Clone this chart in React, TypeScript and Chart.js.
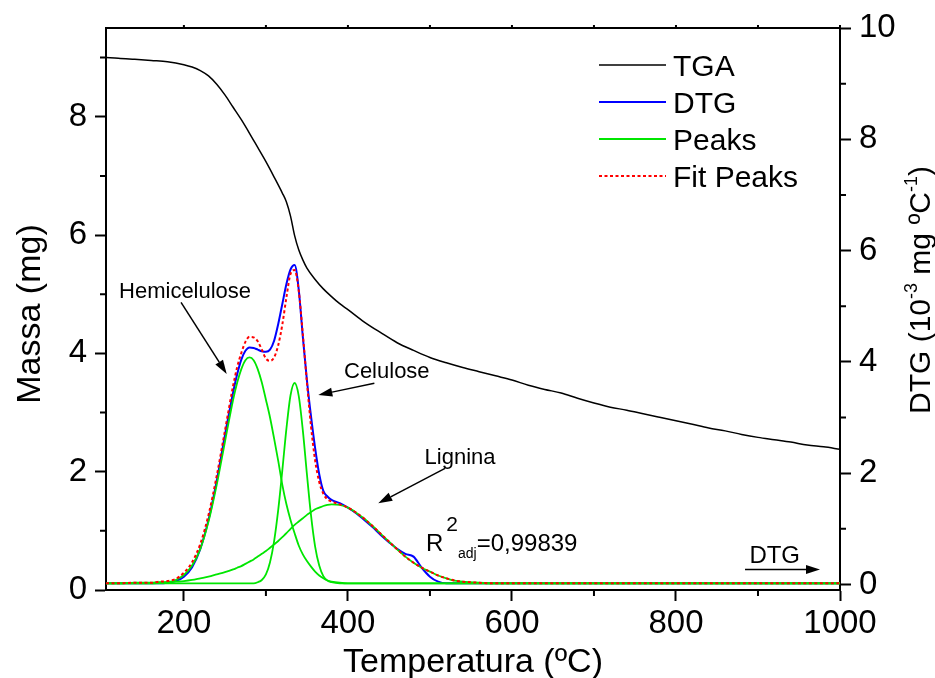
import React, { useEffect, useRef } from 'react';
import { Chart, registerables } from 'chart.js';

Chart.register(...registerables);

const FONT = "'Liberation Sans', Arial, Helvetica, sans-serif";

// Temperature grid (ºC) for DTG, peaks and fit
const TEMPS = [105, 120, 140, 160, 170, 180, 190, 200, 210, 220, 230, 240, 250, 260, 265, 270, 275, 280, 285, 290,
  295, 300, 305, 310, 315, 320, 325, 330, 335, 340, 345, 350, 355, 360, 365, 370, 375, 380, 390, 400,
  410, 420, 430, 440, 450, 460, 470, 480, 490, 500, 510, 520, 530, 540, 560, 580, 600, 650, 700, 750,
  800, 850, 900, 950, 1000];

// DTG experimental (10^-3 mg/ºC)
const DTG = [0.02, 0.02, 0.02, 0.02, 0.02, 0.03, 0.06, 0.14, 0.31, 0.64, 1.16, 1.86, 2.68, 3.45, 3.78, 4.04, 4.20, 4.26, 4.25, 4.22,
  4.19, 4.18, 4.22, 4.38, 4.68, 5.04, 5.40, 5.66, 5.74, 5.30, 4.45, 3.67, 3.02, 2.45, 1.98, 1.68, 1.58, 1.52, 1.46, 1.38,
  1.28, 1.16, 1.03, 0.89, 0.76, 0.64, 0.55, 0.50, 0.30, 0.14, 0.05, 0.02, 0.02, 0.02, 0.02, 0.02, 0.02, 0.02, 0.02, 0.02,
  0.02, 0.02, 0.02, 0.02, 0.02];

// Deconvoluted peaks
const PEAK_HEMI = [0.02, 0.02, 0.02, 0.02, 0.03, 0.04, 0.08, 0.17, 0.34, 0.64, 1.13, 1.79, 2.56, 3.32, 3.63, 3.87, 4.03, 4.08, 4.03, 3.87,
  3.63, 3.32, 3.00, 2.62, 2.22, 1.79, 1.44, 1.16, 0.92, 0.70, 0.54, 0.42, 0.32, 0.23, 0.16, 0.11, 0.07, 0.05, 0.03, 0.02,
  0.02, 0.02, 0.02, 0.02, 0.02, 0.02, 0.02, 0.02, 0.02, 0.02, 0.02, 0.02, 0.02, 0.02, 0.02, 0.02, 0.02, 0.02, 0.02, 0.02,
  0.02, 0.02, 0.02, 0.02, 0.02];

const PEAK_CEL = [0.02, 0.02, 0.02, 0.02, 0.02, 0.02, 0.02, 0.02, 0.02, 0.02, 0.02, 0.02, 0.02, 0.02, 0.02, 0.02, 0.02, 0.02, 0.02, 0.04,
  0.08, 0.18, 0.40, 0.78, 1.34, 2.05, 2.80, 3.40, 3.62, 3.39, 2.77, 1.98, 1.24, 0.68, 0.34, 0.15, 0.07, 0.04, 0.02, 0.02,
  0.02, 0.02, 0.02, 0.02, 0.02, 0.02, 0.02, 0.02, 0.02, 0.02, 0.02, 0.02, 0.02, 0.02, 0.02, 0.02, 0.02, 0.02, 0.02, 0.02,
  0.02, 0.02, 0.02, 0.02, 0.02];

const PEAK_LIG = [0.02, 0.02, 0.03, 0.03, 0.04, 0.04, 0.05, 0.06, 0.08, 0.11, 0.14, 0.18, 0.22, 0.27, 0.30, 0.33, 0.37, 0.41, 0.45, 0.50,
  0.55, 0.60, 0.66, 0.72, 0.78, 0.85, 0.92, 1.00, 1.07, 1.13, 1.19, 1.25, 1.30, 1.35, 1.38, 1.41, 1.43, 1.44, 1.43, 1.38,
  1.29, 1.18, 1.05, 0.91, 0.77, 0.63, 0.50, 0.39, 0.30, 0.23, 0.16, 0.11, 0.07, 0.05, 0.03, 0.02, 0.02, 0.02, 0.02, 0.02,
  0.02, 0.02, 0.02, 0.02, 0.02];

// Cumulative fit of the peaks
const FIT = [0.02, 0.02, 0.03, 0.03, 0.05, 0.06, 0.10, 0.21, 0.40, 0.73, 1.25, 1.95, 2.76, 3.57, 3.91, 4.16, 4.36, 4.45, 4.44, 4.37,
  4.22, 4.06, 4.02, 4.08, 4.30, 4.67, 5.16, 5.58, 5.65, 5.28, 4.50, 3.63, 2.84, 2.23, 1.84, 1.63, 1.53, 1.49, 1.44, 1.38,
  1.29, 1.18, 1.05, 0.91, 0.77, 0.63, 0.50, 0.39, 0.30, 0.23, 0.16, 0.11, 0.07, 0.05, 0.03, 0.02, 0.02, 0.02, 0.02, 0.02,
  0.02, 0.02, 0.02, 0.02, 0.02];

// TGA (mass, mg)
const TGA_TEMPS = [105, 120, 140, 160, 180, 200, 210, 220, 230, 240, 250, 260, 270, 280, 290, 300, 310, 320, 325, 330,
  335, 340, 345, 350, 360, 370, 380, 390, 400, 420, 440, 460, 480, 500, 520, 540, 560, 580, 600, 620,
  640, 660, 680, 700, 720, 740, 760, 780, 800, 820, 840, 860, 880, 900, 920, 940, 960, 980, 1000];
const TGA_MASS = [9.00, 8.99, 8.97, 8.95, 8.93, 8.88, 8.84, 8.78, 8.69, 8.55, 8.37, 8.16, 7.95, 7.72, 7.48, 7.24, 6.98, 6.71, 6.56, 6.32,
  5.99, 5.75, 5.58, 5.44, 5.25, 5.09, 4.96, 4.84, 4.74, 4.53, 4.35, 4.18, 4.05, 3.93, 3.84, 3.76, 3.69, 3.62, 3.55, 3.46,
  3.39, 3.33, 3.24, 3.16, 3.09, 3.04, 2.98, 2.92, 2.86, 2.80, 2.74, 2.69, 2.63, 2.58, 2.54, 2.50, 2.45, 2.42, 2.38];

// Ticks
const X_TICKS = [200, 400, 600, 800, 1000];
const X_MINOR = [300, 500, 700, 900];
const Y_TICKS = [0, 2, 4, 6, 8];
const Y_MINOR = [1, 3, 5, 7, 9];
const Y1_TICKS = [0, 2, 4, 6, 8, 10];
const Y1_MINOR = [1, 3, 5, 7, 9];

const LEGEND_ORDER = ['TGA', 'DTG', 'Peaks', 'Fit Peaks'];

// Annotations (anchored in data coordinates: temperature, DTG axis)
const NOTES = [
  { text: 'Hemicelulose', size: 22, at: [120.9, 5.142], from: [196.5, 5.07], to: [252.2, 3.782] },
  { text: 'Celulose', size: 22, at: [395.2, 3.715], from: [432.2, 3.615], to: [363.9, 3.405] },
  { text: 'Lignina', size: 22, at: [493.4, 2.164], from: [518.4, 2.087], to: [437.0, 1.458] },
  { text: 'DTG', size: 24, at: [889.5, 0.391], from: [884.2, 0.268], to: [975.6, 0.268] },
];
const R2_ANCHOR = [495.2, 0.606];

function arrow(ctx: CanvasRenderingContext2D, x1: number, y1: number, x2: number, y2: number) {
  const ang = Math.atan2(y2 - y1, x2 - x1);
  const L = 14, W = 4.5;
  const bx = x2 - L * Math.cos(ang), by = y2 - L * Math.sin(ang);
  ctx.beginPath();
  ctx.moveTo(x1, y1);
  ctx.lineTo(bx, by);
  ctx.lineWidth = 1.5;
  ctx.stroke();
  ctx.beginPath();
  ctx.moveTo(x2, y2);
  ctx.lineTo(bx + W * Math.sin(ang), by - W * Math.cos(ang));
  ctx.lineTo(bx - W * Math.sin(ang), by + W * Math.cos(ang));
  ctx.closePath();
  ctx.fill();
}

const decor = {
  id: 'decor',
  afterDraw(chart: any) {
    const ctx: CanvasRenderingContext2D = chart.ctx;
    const { left, right, top, bottom } = chart.chartArea;
    const sx = chart.scales.x, sy = chart.scales.y, sy1 = chart.scales.y1;
    ctx.save();
    ctx.strokeStyle = '#000';
    ctx.fillStyle = '#000';
    ctx.lineWidth = 2;
    // top frame
    ctx.beginPath();
    ctx.moveTo(left - 1, top);
    ctx.lineTo(right + 1, top);
    ctx.stroke();
    // minor ticks
    ctx.beginPath();
    X_MINOR.forEach(v => { const p = sx.getPixelForValue(v); ctx.moveTo(p, bottom); ctx.lineTo(p, bottom + 6); });
    [...X_TICKS, ...X_MINOR].forEach(v => { const p = sx.getPixelForValue(v); ctx.moveTo(p, top); ctx.lineTo(p, top - 3); });
    Y_MINOR.forEach(v => { const p = sy.getPixelForValue(v); ctx.moveTo(left, p); ctx.lineTo(left - 6, p); });
    Y1_MINOR.forEach(v => { const p = sy1.getPixelForValue(v); ctx.moveTo(right, p); ctx.lineTo(right + 6, p); });
    ctx.stroke();

    // legend
    const ds = chart.data.datasets;
    LEGEND_ORDER.forEach((lab, i) => {
      const d = ds.find((q: any) => q.label === lab);
      if (!d) return;
      const y = top + 37 + i * 37;
      ctx.save();
      ctx.strokeStyle = d.borderColor;
      ctx.lineWidth = d.borderWidth;
      ctx.setLineDash(d.borderDash || []);
      ctx.beginPath();
      ctx.moveTo(right - 241, y);
      ctx.lineTo(right - 174, y);
      ctx.stroke();
      ctx.restore();
      ctx.font = `30px ${FONT}`;
      ctx.textAlign = 'left';
      ctx.textBaseline = 'alphabetic';
      ctx.fillText(lab, right - 167, y + 10.7);
    });

    // annotations
    NOTES.forEach(n => {
      ctx.font = `${n.size}px ${FONT}`;
      ctx.textAlign = 'left';
      ctx.textBaseline = 'alphabetic';
      ctx.fillText(n.text, sx.getPixelForValue(n.at[0]), sy1.getPixelForValue(n.at[1]));
      arrow(ctx, sx.getPixelForValue(n.from[0]), sy1.getPixelForValue(n.from[1]),
        sx.getPixelForValue(n.to[0]), sy1.getPixelForValue(n.to[1]));
    });

    // R^2 adj
    let rx = sx.getPixelForValue(R2_ANCHOR[0]);
    const ry = sy1.getPixelForValue(R2_ANCHOR[1]);
    ctx.font = `24px ${FONT}`;
    ctx.fillText('R', rx, ry);
    rx += ctx.measureText('R').width + 3;
    ctx.font = `21px ${FONT}`;
    ctx.fillText('2', rx, ry - 20);
    rx += ctx.measureText('2').width;
    ctx.font = `14px ${FONT}`;
    ctx.fillText('adj', rx, ry + 7.5);
    rx += ctx.measureText('adj').width;
    ctx.font = `24px ${FONT}`;
    ctx.fillText('=0,99839', rx, ry);

    // axis titles
    ctx.font = `34px ${FONT}`;
    ctx.textAlign = 'center';
    ctx.fillText('Temperatura (ºC)', (left + right) / 2, 672);

    ctx.save();
    ctx.translate(40, 314);
    ctx.rotate(-Math.PI / 2);
    ctx.fillText('Massa (mg)', 0, 0);
    ctx.restore();

    // right title with superscripts
    const parts = [
      { t: 'DTG (10', s: 30, dy: 0 },
      { t: '-3', s: 18, dy: -13 },
      { t: ' mg ºC', s: 30, dy: 0 },
      { t: '-1', s: 18, dy: -13 },
      { t: ')', s: 30, dy: 0 },
    ];
    let total = 0;
    parts.forEach(p => { ctx.font = `${p.s}px ${FONT}`; total += ctx.measureText(p.t).width; });
    ctx.save();
    ctx.translate(930, 290);
    ctx.rotate(-Math.PI / 2);
    ctx.textAlign = 'left';
    let px = -total / 2;
    parts.forEach(p => {
      ctx.font = `${p.s}px ${FONT}`;
      ctx.fillText(p.t, px, p.dy);
      px += ctx.measureText(p.t).width;
    });
    ctx.restore();

    ctx.restore();
  },
};

export default function App() {
  const ref = useRef<HTMLCanvasElement>(null);
  useEffect(() => {
    const canvas = ref.current;
    if (!canvas) return;
    const pts = (xs: number[], ys: number[]) => xs.map((x, i) => ({ x, y: ys[i] }));
    const GREEN = '#00e600';
    const tickFont = { family: FONT, size: 33 };
    const plain = (v: any) => String(v);
    const chart = new Chart(canvas, {
      type: 'line',
      data: {
        datasets: [
          { label: 'Fit Peaks', data: pts(TEMPS, FIT), yAxisID: 'y1', borderColor: '#ff0000', borderWidth: 2, borderDash: [3, 2.5], order: 0 },
          { label: 'Peaks', data: pts(TEMPS, PEAK_HEMI), yAxisID: 'y1', borderColor: GREEN, borderWidth: 1.8, order: 1 },
          { label: 'Peaks', data: pts(TEMPS, PEAK_CEL), yAxisID: 'y1', borderColor: GREEN, borderWidth: 1.8, order: 1 },
          { label: 'Peaks', data: pts(TEMPS, PEAK_LIG), yAxisID: 'y1', borderColor: GREEN, borderWidth: 1.8, order: 1 },
          { label: 'DTG', data: pts(TEMPS, DTG), yAxisID: 'y1', borderColor: '#0000ff', borderWidth: 2, order: 2 },
          { label: 'TGA', data: pts(TGA_TEMPS, TGA_MASS), yAxisID: 'y', borderColor: '#000000', borderWidth: 1.5, order: 3 },
        ] as any,
      },
      options: {
        animation: false,
        responsive: false,
        devicePixelRatio: 1,
        layout: { padding: { top: 28, left: 0, right: 0, bottom: 0 } },
        elements: {
          point: { radius: 0, hoverRadius: 0 },
          line: { fill: false, cubicInterpolationMode: 'monotone' },
        },
        plugins: { legend: { display: false }, tooltip: { enabled: false }, title: { display: false } },
        events: [],
        scales: {
          x: {
            type: 'linear',
            position: 'bottom',
            min: 105,
            max: 1000,
            afterBuildTicks: (s: any) => { s.ticks = X_TICKS.map(v => ({ value: v })); },
            afterFit: (s: any) => { s.height = 88; },
            ticks: { font: tickFont, color: '#000', padding: 3, maxRotation: 0, autoSkip: false, callback: plain },
            grid: { drawOnChartArea: false, drawTicks: true, tickLength: 11, tickWidth: 2, color: '#000' },
            border: { display: true, color: '#000', width: 2 },
          },
          y: {
            type: 'linear',
            position: 'left',
            min: 0,
            max: 9.5,
            afterBuildTicks: (s: any) => { s.ticks = Y_TICKS.map(v => ({ value: v })); },
            afterFit: (s: any) => { s.width = 106; },
            ticks: { font: tickFont, color: '#000', padding: 8, callback: plain },
            grid: { drawOnChartArea: false, drawTicks: true, tickLength: 11, tickWidth: 2, color: '#000' },
            border: { display: true, color: '#000', width: 2 },
          },
          y1: {
            type: 'linear',
            position: 'right',
            min: -0.1,
            max: 10,
            afterBuildTicks: (s: any) => { s.ticks = Y1_TICKS.map(v => ({ value: v })); },
            afterFit: (s: any) => { s.width = 95; },
            ticks: { font: tickFont, color: '#000', padding: 8, callback: plain },
            grid: { drawOnChartArea: false, drawTicks: true, tickLength: 11, tickWidth: 2, color: '#000' },
            border: { display: true, color: '#000', width: 2 },
          },
        },
      } as any,
      plugins: [decor],
    });
    return () => chart.destroy();
  }, []);
  return (
    <div style={{ position: 'absolute', left: 0, top: 0, width: 935, height: 678, background: '#fff' }}>
      <canvas ref={ref} width={935} height={678} style={{ display: 'block', width: 935, height: 678 }} />
    </div>
  );
}
